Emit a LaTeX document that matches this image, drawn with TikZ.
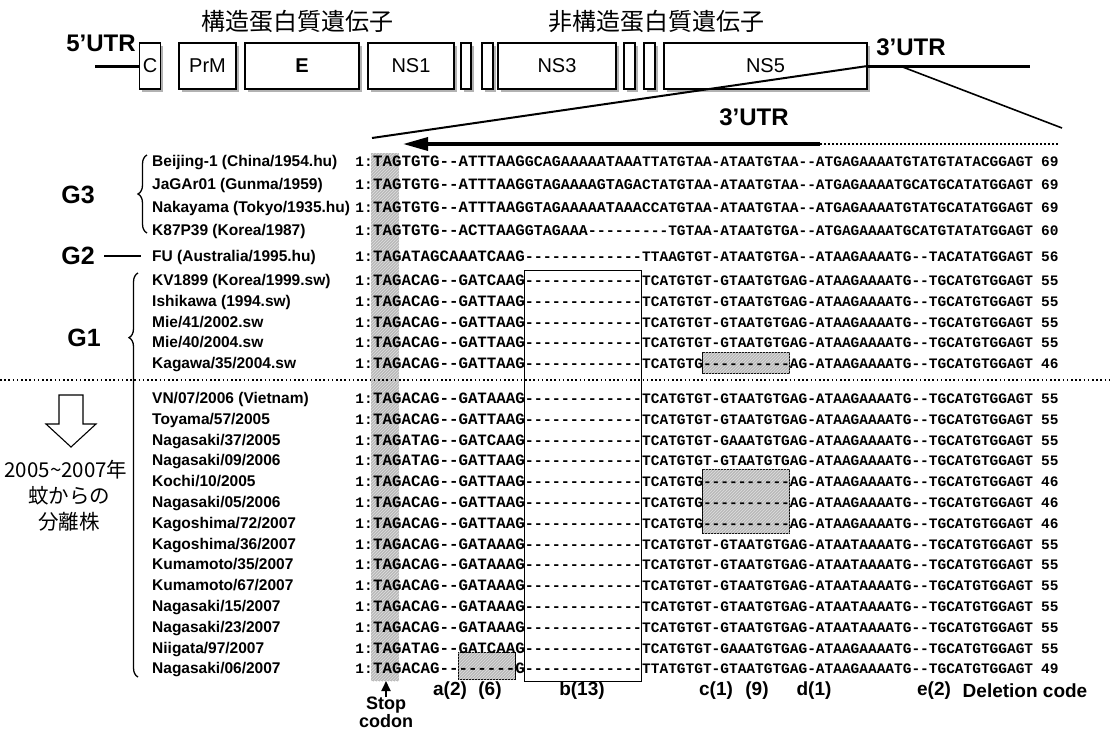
\documentclass[tikz,border=0pt]{standalone}
\usepackage{fontspec}
\setmainfont{Liberation Sans}
\setmonofont{Liberation Mono}
\newfontfamily\cjk{Noto Sans CJK JP}
\usetikzlibrary{patterns,arrows.meta,decorations.pathreplacing,shadows}

% #1 id, #2 y, #3 strain, #4 cols 1-16, #5 cols 17-29, #6 cols 30-74, #7 length
\newcommand{\SeqRow}[7]{%
  \node[strain] (lab-#1) at (152,#2+5.5) {#3};
  \node[segc, anchor=base east] (one-#1) at (373,#2+5.5) {1:};
  \node[sega] (sa-#1) at (373,#2+5.5) {#4};
  \node[segb] (sb-#1) at (524.7,#2+5.5) {#5};
  \node[segc] (sc-#1) at (642,#2+5.5) {#6};
  \node[segc] (num-#1) at (1041,#2+5.5) {#7};
}

\begin{document}
\begin{tikzpicture}[x=1pt, y=-1pt,
  strain/.style={font=\fontsize{15.5}{18}\selectfont\bfseries, anchor=base west, inner sep=0pt},
  sega/.style={font=\fontsize{15.8}{18}\selectfont\ttfamily\bfseries, anchor=base west, inner sep=0pt},
  segb/.style={font=\fontsize{15.0}{18}\selectfont\ttfamily\bfseries, anchor=base west, inner sep=0pt},
  segc/.style={font=\fontsize{14.48}{18}\selectfont\ttfamily\bfseries, anchor=base west, inner sep=0pt},
  gene/.style={draw, line width=1.1pt, fill=white, minimum height=46pt, inner sep=0pt,
    font=\fontsize{20}{24}\selectfont,
    drop shadow={shadow xshift=2.5pt, shadow yshift=-2.5pt, fill=gray!60, opacity=1}},
  utrlab/.style={font=\fontsize{24}{28}\selectfont\bfseries, inner sep=0pt},
  cjktitle/.style={font=\fontsize{24}{28}\selectfont\cjk, inner sep=0pt},
  cjklab/.style={font=\fontsize{20.5}{24}\selectfont\cjk, inner sep=0pt},
  glab/.style={font=\fontsize{25}{30}\selectfont\bfseries, inner sep=0pt},
  bracestyle/.style={decorate, line width=1.3pt},
  hatch/.style={fill=gray!55, postaction={pattern=north east lines, pattern color=gray!25}},
  delbox/.style={hatch, draw, line width=1.1pt},
  codelab/.style={font=\fontsize{19}{22}\selectfont\bfseries, inner sep=0pt},
  stoplab/.style={font=\fontsize{18}{20}\selectfont\bfseries, inner sep=0pt},
  utrline/.style={line width=3pt},
  sepline/.style={line width=1.6pt, dash pattern=on 1.6pt off 2.6pt},
]
\useasboundingbox (0,0) rectangle (1110,731);
\fill[white] (0,0) rectangle (1110,731);

% ---------- genome map ----------
\node[cjktitle] (t1) at (297,21) {構造蛋白質遺伝子};
\node[cjktitle] (t2) at (656,21) {非構造蛋白質遺伝子};

\node[gene, minimum width=21pt] (C) at (150,66) {C};
\node[gene, minimum width=57pt] (PrM) at (207.5,66) {PrM};
\node[gene, minimum width=114pt, font=\fontsize{20}{24}\selectfont\bfseries] (E) at (302,66) {E};
\node[gene, minimum width=86pt] (NS1) at (411,66) {NS1};
\node[gene, minimum width=10pt] (s1) at (466,66) {};
\node[gene, minimum width=11pt] (s2) at (487.5,66) {};
\node[gene, minimum width=118pt] (NS3) at (557,66) {NS3};
\node[gene, minimum width=11pt] (s3) at (629.5,66) {};
\node[gene, minimum width=11pt] (s4) at (649.5,66) {};
\node[gene, minimum width=203pt] (NS5) at (765.5,66) {NS5};

\node[utrlab] (u5lab) at (101,43) {5’UTR};
\coordinate (u5start) at (95,66);
\draw[utrline] (u5start) -- (C.west);

\node[utrlab] (u3lab) at (911,47) {3’UTR};
\coordinate (u3end) at (1030,66);
\draw[utrline] (NS5.east) -- (u3end);

\coordinate (splitR) at (900,66);
\coordinate (zoomR) at (1062,128);
\coordinate (zoomL) at (372,138);
\draw[line width=1.6pt] (splitR) -- (zoomR);
\draw[line width=2pt] (NS5.east) -- (zoomL);

\node[utrlab] (u3lab2) at (754,117) {3’UTR};
\coordinate (arrR) at (820,144);
\coordinate (arrL) at (403,144);
\coordinate (dotR) at (1058,144);
\draw[line width=3.5pt, -{Triangle[length=25pt,width=13pt]}] (arrR) -- (arrL);
\draw[line width=2pt, dash pattern=on 1.5pt off 2.5pt] (arrR) -- (dotR);

% ---------- shaded areas ----------
\fill[hatch] (371,153) rectangle (399,681);
\draw[line width=1pt] (524.7,270) rectangle (641.7,681);
\draw[delbox] (702.8,352.2) rectangle (789.7,373.2);
\draw[delbox] (702.8,469.2) rectangle (789.7,533.8);
\draw[delbox] (458.3,652.4) rectangle (515.2,679.4);

% ---------- rows ----------
\SeqRow{B}{161}{Beijing-1 (China/1954.hu)}{TAGTGTG--ATTTAAG}{GCAGAAAAATAAA}{TTATGTAA-ATAATGTAA--ATGAGAAAATGTATGTATACGGAGT}{69}
\SeqRow{J}{184}{JaGAr01 (Gunma/1959)}{TAGTGTG--ATTTAAG}{GTAGAAAAGTAGA}{CTATGTAA-ATAATGTAA--ATGAGAAAATGCATGCATATGGAGT}{69}
\SeqRow{Nk}{207}{Nakayama (Tokyo/1935.hu)}{TAGTGTG--ATTTAAG}{GTAGAAAAATAAA}{CCATGTAA-ATAATGTAA--ATGAGAAAATGTATGCATATGGAGT}{69}
\SeqRow{K87}{230}{K87P39 (Korea/1987)}{TAGTGTG--ACTTAAG}{GTAGAAA------}{---TGTAA-ATAATGTGA--ATGAGAAAATGCATGTATATGGAGT}{60}
\SeqRow{FU}{256}{FU (Australia/1995.hu)}{TAGATAGCAAATCAAG}{-------------}{TTAAGTGT-ATAATGTGA--ATAAGAAAATG--TACATATGGAGT}{56}
\SeqRow{KV}{280}{KV1899 (Korea/1999.sw)}{TAGACAG--GATCAAG}{-------------}{TCATGTGT-GTAATGTGAG-ATAAGAAAATG--TGCATGTGGAGT}{55}
\SeqRow{Ish}{300.8}{Ishikawa (1994.sw)}{TAGACAG--GATTAAG}{-------------}{TCATGTGT-GTAATGTGAG-ATAAGAAAATG--TGCATGTGGAGT}{55}
\SeqRow{M41}{321.6}{Mie/41/2002.sw}{TAGACAG--GATTAAG}{-------------}{TCATGTGT-GTAATGTGAG-ATAAGAAAATG--TGCATGTGGAGT}{55}
\SeqRow{M40}{342.4}{Mie/40/2004.sw}{TAGACAG--GATTAAG}{-------------}{TCATGTGT-GTAATGTGAG-ATAAGAAAATG--TGCATGTGGAGT}{55}
\SeqRow{Kag}{363.2}{Kagawa/35/2004.sw}{TAGACAG--GATTAAG}{-------------}{TCATGTG----------AG-ATAAGAAAATG--TGCATGTGGAGT}{46}
\SeqRow{VN}{398}{VN/07/2006 (Vietnam)}{TAGACAG--GATAAAG}{-------------}{TCATGTGT-GTAATGTGAG-ATAAGAAAATG--TGCATGTGGAGT}{55}
\SeqRow{Toy}{418.8}{Toyama/57/2005}{TAGACAG--GATTAAG}{-------------}{TCATGTGT-GTAATGTGAG-ATAAGAAAATG--TGCATGTGGAGT}{55}
\SeqRow{N37}{439.6}{Nagasaki/37/2005}{TAGATAG--GATCAAG}{-------------}{TCATGTGT-GAAATGTGAG-ATAAGAAAATG--TGCATGTGGAGT}{55}
\SeqRow{N09}{460.4}{Nagasaki/09/2006}{TAGATAG--GATTAAG}{-------------}{TCATGTGT-GTAATGTGAG-ATAAGAAAATG--TGCATGTGGAGT}{55}
\SeqRow{Ko}{481.2}{Kochi/10/2005}{TAGACAG--GATTAAG}{-------------}{TCATGTG----------AG-ATAAGAAAATG--TGCATGTGGAGT}{46}
\SeqRow{N05}{502}{Nagasaki/05/2006}{TAGACAG--GATTAAG}{-------------}{TCATGTG----------AG-ATAAGAAAATG--TGCATGTGGAGT}{46}
\SeqRow{K72}{522.8}{Kagoshima/72/2007}{TAGACAG--GATTAAG}{-------------}{TCATGTG----------AG-ATAAGAAAATG--TGCATGTGGAGT}{46}
\SeqRow{K36}{543.6}{Kagoshima/36/2007}{TAGACAG--GATAAAG}{-------------}{TCATGTGT-GTAATGTGAG-ATAATAAAATG--TGCATGTGGAGT}{55}
\SeqRow{Ku35}{564.4}{Kumamoto/35/2007}{TAGACAG--GATAAAG}{-------------}{TCATGTGT-GTAATGTGAG-ATAATAAAATG--TGCATGTGGAGT}{55}
\SeqRow{Ku67}{585.2}{Kumamoto/67/2007}{TAGACAG--GATAAAG}{-------------}{TCATGTGT-GTAATGTGAG-ATAATAAAATG--TGCATGTGGAGT}{55}
\SeqRow{N15}{606}{Nagasaki/15/2007}{TAGACAG--GATAAAG}{-------------}{TCATGTGT-GTAATGTGAG-ATAATAAAATG--TGCATGTGGAGT}{55}
\SeqRow{N23}{626.8}{Nagasaki/23/2007}{TAGACAG--GATAAAG}{-------------}{TCATGTGT-GTAATGTGAG-ATAATAAAATG--TGCATGTGGAGT}{55}
\SeqRow{Ni}{647.6}{Niigata/97/2007}{TAGATAG--GATCAAG}{-------------}{TCATGTGT-GAAATGTGAG-ATAAGAAAATG--TGCATGTGGAGT}{55}
\SeqRow{N06}{668.4}{Nagasaki/06/2007}{TAGACAG--------G}{-------------}{TTATGTGT-GTAATGTGAG-ATAAGAAAATG--TGCATGTGGAGT}{49}

% ---------- separator ----------
\coordinate (sepL) at (0,380);
\coordinate (sepR) at (1110,380);
\draw[sepline] (sepL) -- (sepR);

% ---------- groups ----------
\node[glab] (G3) at (78,195) {G3};
\coordinate (g3b) at (147,233);
\coordinate (g3t) at (147,155);
\draw[bracestyle, decoration={brace, amplitude=9pt}] (g3b) -- (g3t);

\node[glab] (G2) at (78,256) {G2};
\coordinate (g2a) at (104,256);
\coordinate (g2b) at (141,256);
\draw[line width=1.2pt] (g2a) -- (g2b);

\node[glab] (G1) at (84,338) {G1};
\coordinate (g1b) at (138,677);
\coordinate (g1t) at (138,273);
\draw[bracestyle, decoration={brace, amplitude=9pt, aspect=0.84}] (g1b) -- (g1t);

% ---------- hollow arrow and mosquito text ----------
\draw[line width=1.1pt, fill=white] (59,395) -- (83,395) -- (83,424) -- (96,424) -- (71,447) -- (46,424) -- (59,424) -- cycle;
\node[cjklab] (yr) at (66,470) {2005\textasciitilde 2007年};
\node[cjklab] (mos) at (69,496) {蚊からの};
\node[cjklab] (iso) at (69,522) {分離株};

% ---------- deletion codes ----------
\node[codelab] (da) at (450,691) {a(2)};
\node[codelab] (d6) at (490,691) {(6)};
\node[codelab] (db) at (582,691) {b(13)};
\node[codelab] (dc) at (716,691) {c(1)};
\node[codelab] (d9) at (757,691) {(9)};
\node[codelab] (dd) at (814,691) {d(1)};
\node[codelab] (de) at (934,691) {e(2)};
\node[codelab] (dcode) at (1025,691) {Deletion code};

\node[stoplab] (stop) at (386,705) {Stop};
\node[stoplab] (codon) at (386,721) {codon};
\coordinate (stopbase) at (386,697);
\coordinate (stoptip) at (386,681);
\draw[line width=2pt, -{Triangle[length=10pt,width=9pt]}] (stopbase) -- (stoptip);
\end{tikzpicture}
\end{document}
